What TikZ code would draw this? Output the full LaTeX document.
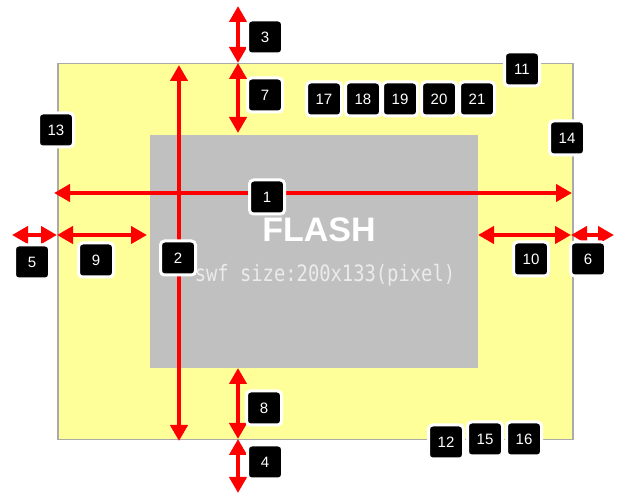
\documentclass[tikz,border=0pt]{standalone}
\usepackage{fontspec}
\setmainfont{Liberation Sans}
\newfontfamily\monofont{DejaVu Sans Mono}
\usetikzlibrary{arrows.meta}
\definecolor{paper}{HTML}{FFFF99}
\definecolor{flash}{HTML}{C0C0C0}
\definecolor{edge}{HTML}{AAAAAA}
\definecolor{dimred}{HTML}{FF0000}
\begin{document}
\begin{tikzpicture}[x=1pt,y=-1pt,
  dimline/.style={draw=dimred, line width=4.5pt, {Triangle[length=16pt,width=17pt]}-{Triangle[length=16pt,width=17pt]}},
  tag/.style={fill=black, draw=white, line width=3pt, rounded corners=4pt, minimum width=35pt, minimum height=34pt, inner sep=0pt, text=white, font=\fontsize{15}{15}\selectfont},
  area/.style={anchor=north west, inner sep=0pt}]
\useasboundingbox (0,0) rectangle (622,494);
\node[area, fill=paper, draw=edge, line width=1.5pt, minimum width=515pt, minimum height=376pt] (page) at (57,63) {};
\node[area, fill=flash, minimum width=328pt, minimum height=233pt] (swf) at (150,135) {};
% coordinates
\coordinate (a1l) at (54,193); \coordinate (a1r) at (572,193);
\coordinate (a2t) at (179,65); \coordinate (a2b) at (179,441);
\coordinate (v0) at (238,6); \coordinate (v1) at (238,63); \coordinate (v2) at (238,133);
\coordinate (v3) at (238,368); \coordinate (v4) at (238,439); \coordinate (v5) at (238,493);
\coordinate (h0) at (12,235); \coordinate (h1) at (57,235); \coordinate (h2) at (147,235);
\coordinate (h3) at (478,235); \coordinate (h4) at (571,235); \coordinate (h5) at (614,235);
\draw[dimline] (a1l) -- (a1r);
\draw[dimline] (a2t) -- (a2b);
\draw[dimline] (v0) -- (v1);
\draw[dimline] (v1) -- (v2);
\draw[dimline] (v3) -- (v4);
\draw[dimline] (v4) -- (v5);
\draw[dimline] (h0) -- (h1);
\draw[dimline] (h1) -- (h2);
\draw[dimline] (h3) -- (h4);
\draw[dimline] (h4) -- (h5);
% texts
\node[text=white, font=\fontsize{34}{34}\selectfont\bfseries, inner sep=0pt] (title) at (319,230) {FLASH};
\node[text=white!92!black, font=\fontsize{18.8}{19}\selectfont\monofont, inner sep=0pt, yscale=1.2] (size) at (325,275) {swf size:200x133(pixel)};
% tags
\node[tag] (t1) at (267,197) {1};
\node[tag] (t2) at (178,258) {2};
\node[tag] (t3) at (265,37) {3};
\node[tag] (t4) at (265,462) {4};
\node[tag] (t5) at (32,262) {5};
\node[tag] (t6) at (588,259) {6};
\node[tag] (t7) at (265,95) {7};
\node[tag] (t8) at (264,408) {8};
\node[tag] (t9) at (96,260) {9};
\node[tag] (t10) at (531,259) {10};
\node[tag] (t11) at (522,69) {11};
\node[tag] (t12) at (446,442) {12};
\node[tag] (t13) at (56,130) {13};
\node[tag] (t14) at (567,138) {14};
\node[tag] (t15) at (485,439) {15};
\node[tag] (t16) at (524,439) {16};
\node[tag] (t17) at (324,99) {17};
\node[tag] (t18) at (363,99) {18};
\node[tag] (t19) at (400,99) {19};
\node[tag] (t20) at (439,99) {20};
\node[tag] (t21) at (477,99) {21};
\end{tikzpicture}
\end{document}
